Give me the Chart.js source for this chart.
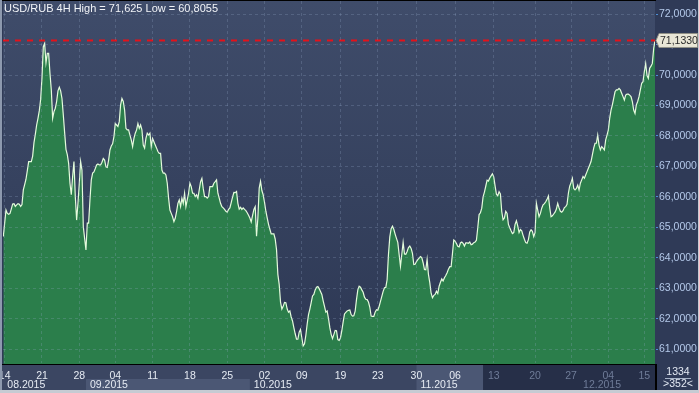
<!DOCTYPE html>
<html>
<head>
<meta charset="utf-8">
<title>USD/RUB 4H</title>
<script src="https://cdn.jsdelivr.net/npm/chart.js@4.4.1/dist/chart.umd.min.js"></script>
<style>
  html, body { margin: 0; padding: 0; background: #2f3a57; overflow: hidden; }
</style>
</head>
<body>
<canvas id="rubChart" width="699" height="393"></canvas>
<script>
// USD/RUB, закрытия 4H свечей (август - декабрь 2015)
const rates = [
  64.70, 65.14, 65.57, 65.46, 65.43, 65.46, 65.61, 65.77, 65.78, 65.69,
  65.74, 65.78, 65.76, 65.69, 65.75, 66.23, 66.40, 66.58, 66.86, 67.16,
  67.16, 67.16, 67.34, 67.78, 68.05, 68.36, 68.58, 68.83, 69.20, 69.91,
  70.93, 71.04, 70.40, 70.71, 70.71, 70.05, 69.51, 68.58, 68.80, 68.91,
  69.13, 69.48, 69.60, 69.48, 69.23, 68.69, 68.11, 67.56, 67.39, 67.10,
  66.45, 66.07, 66.67, 67.16, 66.01, 65.24, 65.79, 66.45, 67.16, 66.88,
  65.03, 64.64, 64.26, 65.14, 65.14, 65.90, 66.56, 66.78, 66.82, 66.93,
  67.05, 67.08, 67.05, 67.05, 67.14, 67.26, 67.21, 66.99, 66.97, 67.21,
  67.54, 67.67, 67.74, 67.98, 68.41, 68.36, 68.31, 68.47, 69.02, 69.23,
  69.13, 68.85, 68.25, 68.20, 68.20, 68.03, 67.87, 67.65, 67.92, 68.09,
  68.20, 68.41, 68.25, 68.36, 68.20, 67.70, 67.60, 67.92, 68.09, 68.03,
  68.09, 67.65, 67.92, 67.81, 67.70, 67.60, 67.49, 67.43, 67.43, 66.88,
  66.78, 66.78, 66.72, 66.45, 65.96, 65.57, 65.46, 65.35, 65.19, 65.30,
  65.52, 65.79, 65.90, 65.68, 65.96, 65.79, 66.12, 65.68, 65.90, 66.12,
  66.45, 66.34, 66.12, 66.12, 66.01, 66.07, 65.96, 66.23, 66.50, 66.61,
  66.28, 66.01, 66.01, 65.96, 66.01, 66.34, 66.34, 66.34, 66.45, 66.50,
  66.56, 66.12, 65.96,
  65.79, 65.68, 65.64, 65.59, 65.53, 65.50, 65.59, 65.64, 65.81, 65.99,
  66.15, 66.14, 66.18, 65.79, 65.60, 65.66, 65.59, 65.64, 65.59, 65.55,
  65.48, 65.40, 65.31, 65.18, 65.39, 65.59, 65.68, 64.71, 65.31, 66.29,
  66.51, 66.21, 66.07, 65.82, 65.53, 65.31, 65.10, 64.94, 64.79, 64.79,
  64.79, 64.62, 64.27, 63.46, 63.13, 62.55, 62.32, 62.41, 62.54, 62.53,
  62.32, 62.22, 62.26, 62.06, 61.93, 61.71, 61.51, 61.33, 61.33, 61.56,
  61.65, 61.37, 61.11, 61.18, 61.46, 61.83, 62.14, 62.32, 62.53, 62.75,
  62.80, 62.95, 63.04, 63.06, 62.99, 62.90, 62.80, 62.59, 62.41, 62.22,
  62.26, 62.01, 61.71, 61.49, 61.35, 61.48, 61.62, 61.61, 61.32, 61.29,
  61.38, 61.61, 61.90, 62.16, 62.21, 62.26, 62.28, 62.29, 62.14, 62.09,
  62.10, 62.25, 62.63, 62.95, 63.07, 63.04, 62.95, 62.87, 62.71, 62.64,
  62.63, 62.55, 62.38, 62.09, 62.08, 62.08, 62.22, 62.30, 62.28, 62.41,
  62.57, 62.74, 62.90, 63.02, 63.03, 63.29, 64.11, 64.69, 64.96, 65.04,
  64.94, 64.78, 64.64, 64.51, 64.11, 63.72, 64.12, 64.51, 64.13, 64.12,
  64.21, 64.34, 64.39, 64.31, 64.15, 63.78, 63.79, 63.88, 63.94, 63.99,
  64.04, 64.01, 63.84, 63.62, 63.61, 63.95, 63.46, 63.19, 62.84, 62.69,
  62.77, 62.80, 62.91, 62.83, 63.07,
  63.20, 63.31, 63.24, 63.35, 63.42, 63.51, 63.63, 63.71, 63.71, 64.13,
  64.59, 64.55, 64.47, 64.38, 64.36, 64.49, 64.52, 64.48, 64.39, 64.49,
  64.49, 64.48, 64.52, 64.43, 64.45, 64.50, 64.52, 64.58, 64.99, 65.42,
  65.48, 65.63, 66.00, 66.16, 66.35, 66.55, 66.52, 66.62, 66.69, 66.76,
  66.66, 66.36, 66.09, 66.04, 66.17, 66.10, 65.52, 65.25, 65.31, 65.53,
  65.46, 65.10, 64.99, 64.89, 64.80, 64.83, 65.10, 65.22, 65.05, 64.83,
  64.93, 64.89, 64.74, 64.61, 64.50, 64.48, 64.60, 64.85, 64.92, 64.87,
  64.70, 64.83, 65.79, 65.57, 65.35, 65.46, 65.63, 65.74, 65.78, 65.84,
  65.92, 66.03, 65.65, 65.35, 65.38, 65.44, 65.50, 65.60, 65.79, 65.64,
  65.53, 65.50, 65.55, 65.65, 65.68, 65.76, 66.12, 66.35, 66.47, 66.61,
  66.28, 66.23, 66.28, 66.39, 66.23, 66.45, 66.56, 66.67, 66.61, 66.72,
  66.83, 66.94, 67.05, 67.16, 67.38, 67.60, 67.76, 67.76, 68.03, 67.70,
  67.54, 67.65, 67.60, 67.54, 67.87, 68.03, 68.20, 68.58, 68.85, 69.02,
  69.23, 69.45, 69.51, 69.51, 69.56, 69.51, 69.40, 69.29, 69.18, 69.34,
  69.37, 69.37, 69.34, 69.29, 69.13, 68.85, 68.74, 69.02, 69.13, 69.29,
  69.51, 69.73, 69.78, 70.11, 70.38, 69.98, 69.89, 70.22, 70.29, 70.38,
  70.87, 71.133
];

// подписи дней по оси X (номер бара -> день)
const dayTicks = [1, 29, 57, 84, 112, 140, 168, 196, 224, 253, 281, 310, 339, 368, 399, 426, 454, 481];
const dayLabels = ['14', '21', '28', '04', '11', '18', '25', '02', '09', '19', '23', '30', '06', '13', '20', '27', '04', '15'];

// месяцы во второй строке оси
const monthStarts = [0, 62, 185, 310, 432];
const monthLabels = ['08.2015', '09.2015', '10.2015', '11.2015', '12.2015'];
const dimFrom = 360;   // дальше ось затемнена

// шкала цены
const rateTicks = [61, 62, 63, 64, 65, 66, 67, 68, 69, 70, 71, 72];

const titleText = 'USD/RUB 4H High = 71,625 Low = 60,8055';
const barsTotal = '1334';
const barsShown = '>352<';

const FONT = "'Liberation Sans Narrow', 'Liberation Sans', Arial, sans-serif";
const gridColor = 'rgba(150, 170, 205, 0.25)';

const fmt = v => v.toFixed(4).replace('.', ',');

// фон, подписи и рамка в стиле терминала
const terminalLook = {
    id: 'terminalLook',
    beforeDraw(chart) {
        const { ctx, chartArea: a, scales: { x } } = chart;
        ctx.save();
        ctx.fillStyle = '#2f3a57';
        ctx.fillRect(0, 0, chart.width, chart.height);

        const g = ctx.createLinearGradient(0, a.top, 0, a.bottom);
        g.addColorStop(0, '#3f4c6a');
        g.addColorStop(1, '#2d3854');
        ctx.fillStyle = g;
        ctx.fillRect(a.left, a.top, a.right - a.left, a.bottom - a.top);

        // полоса оси времени
        const axBottom = chart.height - 3;
        ctx.fillStyle = '#3b4662';
        ctx.fillRect(0, a.bottom, a.right, axBottom - a.bottom);
        const rowMid = a.bottom + 15;
        // сентябрь - светлее во второй строке
        const s1 = x.getPixelForValue(monthStarts[1]);
        const s2 = x.getPixelForValue(monthStarts[2]);
        ctx.fillStyle = '#4b5774';
        ctx.fillRect(s1, rowMid, s2 - s1, axBottom - rowMid);
        // ноябрь - светлее на всю высоту
        const s3 = x.getPixelForValue(monthStarts[3]);
        const sd = x.getPixelForValue(dimFrom);
        ctx.fillRect(s3, a.bottom, sd - s3, axBottom - a.bottom);
        // затемненная часть
        ctx.fillStyle = '#262f48';
        ctx.fillRect(sd, a.bottom, a.right - sd, axBottom - a.bottom);
        ctx.restore();
    },
    afterDatasetsDraw(chart) {
        const { ctx, chartArea: a, scales: { y } } = chart;
        const yv = y.getPixelForValue(rates[rates.length - 1]);
        ctx.save();
        ctx.strokeStyle = '#e3121b';
        ctx.lineWidth = 2;
        ctx.setLineDash([6, 6]);
        ctx.beginPath();
        ctx.moveTo(a.left, yv);
        ctx.lineTo(a.right, yv);
        ctx.stroke();
        ctx.restore();
    },
    afterDraw(chart) {
        const { ctx, chartArea: a, scales: { x, y } } = chart;
        const W = chart.width, H = chart.height;
        ctx.save();
        ctx.font = '10.5px ' + FONT;
        ctx.textBaseline = 'alphabetic';

        // дни
        ctx.textAlign = 'center';
        dayTicks.forEach((v, i) => {
            ctx.fillStyle = v >= dimFrom ? '#6f7c98' : '#e6ebf3';
            ctx.fillText(dayLabels[i], x.getPixelForValue(v), a.bottom + 14.5);
        });
        // месяцы
        ctx.textAlign = 'left';
        monthStarts.forEach((v, i) => {
            ctx.fillStyle = v >= dimFrom ? '#6f7c98' : '#e6ebf3';
            ctx.fillText(monthLabels[i], x.getPixelForValue(v) + 4, a.bottom + 23.5);
        });

        // разделитель справа внизу
        ctx.fillStyle = '#000';
        ctx.fillRect(a.right, a.bottom, 2, H - 3 - a.bottom);
        ctx.fillRect(0, a.bottom, a.right, 1);

        // счетчик баров
        ctx.fillStyle = '#e3e9f3';
        ctx.textAlign = 'center';
        const cx = (a.right + W) / 2 + 1;
        ctx.fillText(barsTotal, cx, a.bottom + 11);
        ctx.fillText(barsShown, cx, a.bottom + 23);
        ctx.fillStyle = '#a8b4c8';
        ctx.fillRect(cx - 13, a.bottom + 14, 26, 1);

        // метка последней цены
        const last = rates[rates.length - 1];
        const yv = y.getPixelForValue(last);
        ctx.beginPath();
        ctx.moveTo(a.right + 1, yv);
        ctx.lineTo(a.right + 4, yv - 7);
        ctx.lineTo(W - 1.5, yv - 7);
        ctx.lineTo(W - 1.5, yv + 7);
        ctx.lineTo(a.right + 4, yv + 7);
        ctx.closePath();
        ctx.fillStyle = '#e9e6d6';
        ctx.fill();
        ctx.strokeStyle = '#8f8f86';
        ctx.lineWidth = 1;
        ctx.stroke();
        ctx.fillStyle = '#2b2b2b';
        ctx.textAlign = 'left';
        ctx.textBaseline = 'middle';
        ctx.fillText(fmt(last), a.right + 5, yv + 0.5);

        // заголовок
        ctx.textBaseline = 'alphabetic';
        ctx.font = '11px ' + FONT;
        ctx.fillStyle = '#f2f4f8';
        ctx.fillText(titleText, 4, 12);

        // рамка окна
        ctx.fillStyle = '#8d99ae';
        ctx.fillRect(0, 0, 2, H);
        ctx.fillStyle = '#c6cbd3';
        ctx.fillRect(0, H - 3, W, 3);
        ctx.fillRect(W - 1, 0, 1, H);
        ctx.restore();
    }
};

const config = {
    type: 'line',
    data: {
        labels: rates.map((_, i) => i),
        datasets: [{
            label: 'USD/RUB',
            data: rates,
            borderColor: '#e4fbdc',
            borderWidth: 1.2,
            backgroundColor: '#2b7e4b',
            fill: 'start',
            pointRadius: 0,
            tension: 0
        }]
    },
    options: {
        responsive: false,
        animation: false,
        devicePixelRatio: 1,
        events: [],
        layout: { padding: { left: 3, top: 1, right: 0, bottom: 0 } },
        plugins: {
            legend: { display: false },
            tooltip: { enabled: false }
        },
        scales: {
            x: {
                type: 'linear',
                min: -0.25,
                max: 489,
                afterBuildTicks: s => { s.ticks = dayTicks.map(v => ({ value: v })); },
                afterFit: s => { s.height = 29; s.paddingLeft = 0; s.paddingRight = 0; },
                ticks: { display: false },
                grid: { z: 1, color: gridColor, drawTicks: false, tickLength: 0 },
                border: { color: '#000', width: 2, dash: [3, 3] }
            },
            y: {
                position: 'right',
                min: 60.518,
                max: 72.428,
                afterBuildTicks: s => { s.ticks = rateTicks.map(v => ({ value: v })); },
                afterFit: s => { s.width = 44; s.paddingTop = 0; s.paddingBottom = 0; },
                ticks: {
                    color: '#b4c9ea',
                    font: { size: 10.5, family: FONT },
                    padding: 1,
                    callback: v => fmt(v)
                },
                grid: { z: 1, color: gridColor, tickLength: 3, tickColor: '#4b8fd6', tickBorderDash: [], tickWidth: 1 },
                border: { color: '#000', width: 2, dash: [3, 3] }
            }
        }
    },
    plugins: [terminalLook]
};

const rubChart = new Chart(document.getElementById('rubChart'), config);
</script>
</body>
</html>
